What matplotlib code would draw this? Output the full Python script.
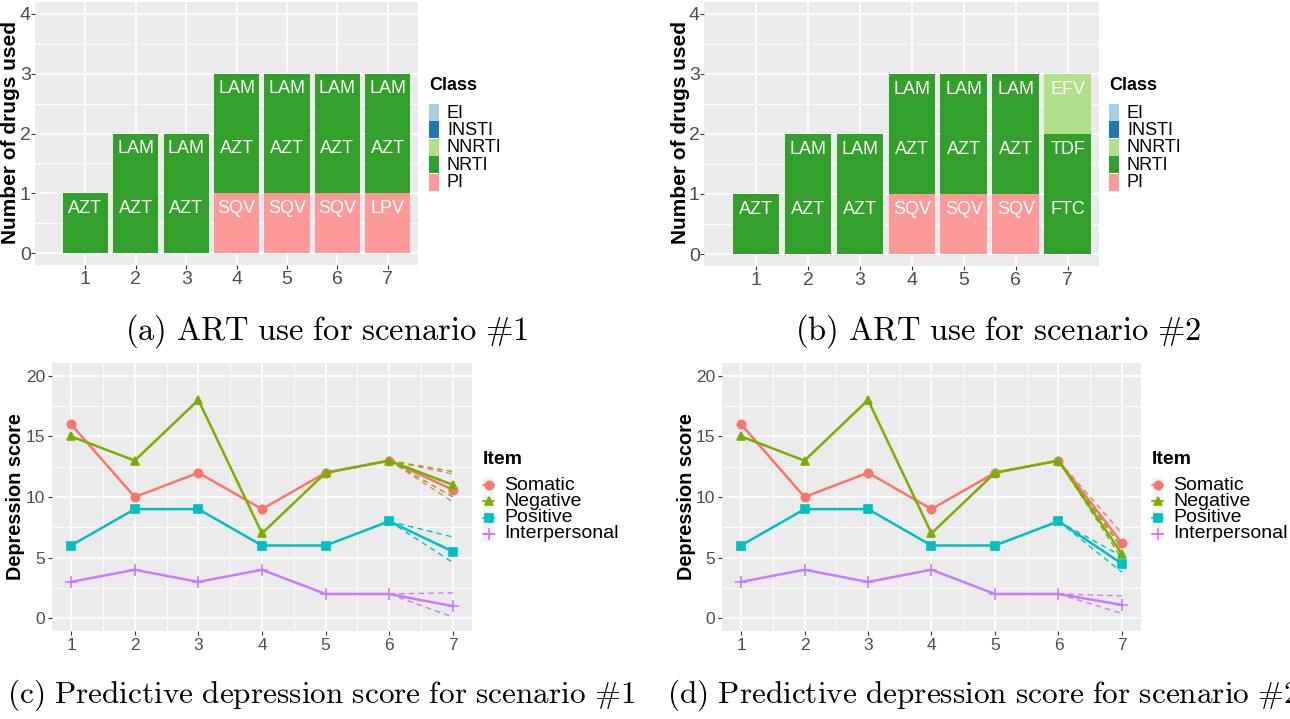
import numpy as np
import matplotlib
matplotlib.use("Agg")
import matplotlib.pyplot as plt
from matplotlib.patches import Rectangle
from matplotlib.lines import Line2D

plt.rcParams['font.family'] = ['Liberation Sans', 'DejaVu Sans']
plt.rcParams['mathtext.fontset'] = 'cm'

W, H = 1290, 719

# ---- donnees : traitements ART (haut)
steps = [1, 2, 3, 4, 5, 6, 7]
drugs_a = [["AZT"], ["AZT", "LAM"], ["AZT", "LAM"], ["SQV", "AZT", "LAM"],
           ["SQV", "AZT", "LAM"], ["SQV", "AZT", "LAM"], ["LPV", "AZT", "LAM"]]
class_a = [["NRTI"], ["NRTI", "NRTI"], ["NRTI", "NRTI"], ["PI", "NRTI", "NRTI"],
           ["PI", "NRTI", "NRTI"], ["PI", "NRTI", "NRTI"], ["PI", "NRTI", "NRTI"]]
drugs_b = [["AZT"], ["AZT", "LAM"], ["AZT", "LAM"], ["SQV", "AZT", "LAM"],
           ["SQV", "AZT", "LAM"], ["SQV", "AZT", "LAM"], ["FTC", "TDF", "EFV"]]
class_b = [["NRTI"], ["NRTI", "NRTI"], ["NRTI", "NRTI"], ["PI", "NRTI", "NRTI"],
           ["PI", "NRTI", "NRTI"], ["PI", "NRTI", "NRTI"], ["NRTI", "NRTI", "NNRTI"]]
classes = ["EI", "INSTI", "NNRTI", "NRTI", "PI"]
class_colors = ["#A6CEE3", "#1F78B4", "#B2DF8A", "#33A02C", "#FB9A99"]

# ---- donnees : scores de depression (bas)
items = ["Somatic", "Negative", "Positive", "Interpersonal"]
item_colors = ["#F8766D", "#7CAE00", "#00BFC4", "#C77CFF"]
item_markers = ["o", "^", "s", "+"]
score_c = [[16, 10, 12, 9, 12, 13, 10.6],
           [15, 13, 18, 7, 12, 13, 11.0],
           [6, 9, 9, 6, 6, 8, 5.5],
           [3, 4, 3, 4, 2, 2, 1.0]]
upper_c = [11.9, 12.1, 6.7, 2.1]
lower_c = [9.6, 10.0, 4.6, 0.1]
score_d = [[16, 10, 12, 9, 12, 13, 6.2],
           [15, 13, 18, 7, 12, 13, 5.3],
           [6, 9, 9, 6, 6, 8, 4.5],
           [3, 4, 3, 4, 2, 2, 1.1]]
upper_d = [7.0, 5.8, 5.1, 1.85]
lower_d = [5.8, 4.9, 3.8, 0.4]

fig = plt.figure(figsize=(W / 100, H / 100), dpi=100)


def px_axes(left, top, right, bottom):
    return fig.add_axes([left / W, 1 - bottom / H, (right - left) / W, (bottom - top) / H])


def ftext(x, y, s, **kw):
    fig.text(x / W, 1 - y / H, s, **kw)


def style_axes(ax, size, pad):
    ax.set_facecolor("#EBEBEB")
    for sp in ax.spines.values():
        sp.set_visible(False)
    ax.grid(True, which="major", color="white", lw=1.2)
    ax.grid(True, which="minor", color="white", lw=0.6)
    ax.set_axisbelow(True)
    ax.tick_params(which="major", length=3, color="#333333", labelcolor="#4D4D4D",
                   labelsize=size, pad=pad)
    ax.tick_params(which="minor", length=0)


def bar_panel(ax, drugs, cls):
    style_axes(ax, 14, 1)
    ax.tick_params(axis="y", pad=0)
    for i, s in enumerate(steps):
        for k in range(len(drugs[i])):
            col = class_colors[classes.index(cls[i][k])]
            ax.bar(s, 1, bottom=k, width=0.9, color=col, lw=0)
            ax.text(s, k + 0.75, drugs[i][k], color="white", fontsize=13,
                    ha="center", va="center")
    ax.set_xlim(0, 7.6)
    ax.set_ylim(-0.2, 4.2)
    ax.set_xticks(steps)
    ax.set_yticks([0, 1, 2, 3, 4])
    ax.set_yticks([0.5, 1.5, 2.5, 3.5], minor=True)
    ax.grid(False, axis="x", which="minor")


def class_legend(x, y):
    ftext(x, y, "Class", fontsize=13, fontweight="bold", va="center")
    for j, (c, col) in enumerate(zip(classes, class_colors)):
        top = y + 19 + j * 17.4
        fig.add_artist(Rectangle((x / W, 1 - (top + 17) / H), 10 / W, 17 / H,
                                 transform=fig.transFigure, color=col, lw=0))
        ftext(x + 18, top + 9, c, fontsize=13, va="center")


def score_panel(ax, scores, up, lo):
    style_axes(ax, 12.5, 2)
    for j in range(len(items)):
        ax.plot(steps, scores[j], color=item_colors[j], lw=1.8,
                marker=item_markers[j], ms=6 if item_markers[j] != "+" else 9,
                mew=1.2)
        ax.plot([6, 7], [scores[j][5], up[j]], color=item_colors[j], lw=1, ls=(0, (4, 3)))
        ax.plot([6, 7], [scores[j][5], lo[j]], color=item_colors[j], lw=1, ls=(0, (4, 3)))
    ax.set_xlim(0.7, 7.3)
    ax.set_ylim(-1.05, 21.05)
    ax.set_xticks(steps)
    ax.set_xticks([1.5, 2.5, 3.5, 4.5, 5.5, 6.5], minor=True)
    ax.set_yticks([0, 5, 10, 15, 20])
    ax.set_yticks([2.5, 7.5, 12.5, 17.5], minor=True)


def item_legend(x, y):
    ftext(x, y, "Item", fontsize=14, fontweight="bold", va="center")
    for j in range(len(items)):
        cy = y + 25 + j * 16.3
        fig.add_artist(Rectangle((x / W, 1 - (cy + 8) / H), 11 / W, 16 / H,
                                 transform=fig.transFigure, color="#F2F2F2", lw=0))
        fig.add_artist(Line2D([x / W, (x + 11) / W], [1 - cy / H, 1 - cy / H],
                              transform=fig.transFigure, color=item_colors[j], lw=1.2))
        fig.add_artist(Line2D([(x + 5.5) / W], [1 - cy / H], transform=fig.transFigure,
                              color=item_colors[j], marker=item_markers[j],
                              ms=6 if item_markers[j] != "+" else 9, mew=1.2))
        ftext(x + 21, cy, items[j], fontsize=14, va="center")


# (a)
ax_a = px_axes(35, 2, 418, 265)
bar_panel(ax_a, drugs_a, class_a)
ftext(11, 133, "Number of drugs used", fontsize=15, fontweight="bold",
      rotation=90, ha="center", va="center")
class_legend(429, 85)

# (b)
ax_b = px_axes(704, 2, 1099, 266)
bar_panel(ax_b, drugs_b, class_b)
ftext(680, 133, "Number of drugs used", fontsize=15, fontweight="bold",
      rotation=90, ha="center", va="center")
class_legend(1109, 85)

# (c)
ax_c = px_axes(52, 363, 472, 631)
score_panel(ax_c, score_c, upper_c, lower_c)
ftext(16, 497, "Depression score", fontsize=14.3, fontweight="bold",
      rotation=90, ha="center", va="center")
item_legend(483, 460)

# (d)
ax_d = px_axes(722, 363, 1141, 631)
score_panel(ax_d, score_d, upper_d, lower_d)
ftext(686, 497, "Depression score", fontsize=14.3, fontweight="bold",
      rotation=90, ha="center", va="center")
item_legend(1152, 460)

# legendes des sous-figures
ftext(327, 331, r"$\mathrm{(a)\ ART\ use\ for\ scenario\ \#1}$", fontsize=23.5,
      ha="center", va="center")
ftext(998, 331, r"$\mathrm{(b)\ ART\ use\ for\ scenario\ \#2}$", fontsize=23.5,
      ha="center", va="center")
ftext(321, 695, r"$\mathrm{(c)\ Predictive\ depression\ score\ for\ scenario\ \#1}$",
      fontsize=22.5, ha="center", va="center")
ftext(667, 695, r"$\mathrm{(d)\ Predictive\ depression\ score\ for\ scenario\ \#2}$",
      fontsize=22.5, ha="left", va="center")

fig.savefig("out.png", dpi=100)
